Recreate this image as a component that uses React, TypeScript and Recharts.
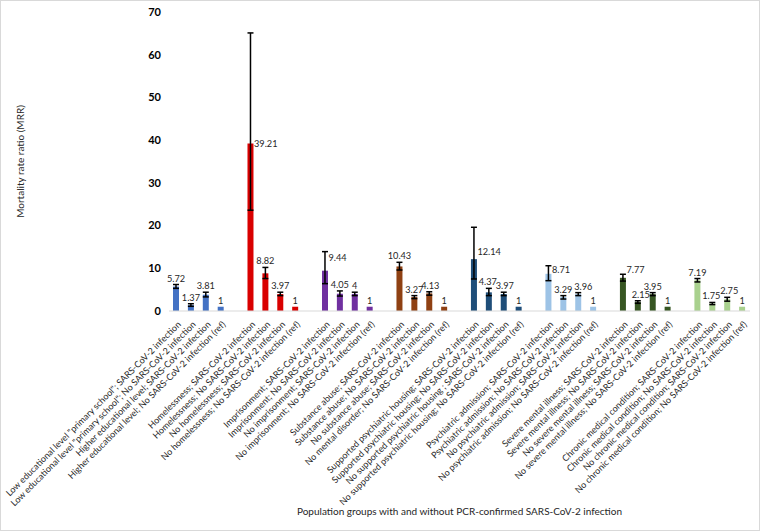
import { Bar, BarChart, XAxis, YAxis, ErrorBar, LabelList, Cell, Label } from "recharts"

const categories = [
    'Low educational level "primary school"; SARS-CoV-2 infection',
    'Low educational level "primary school"; No SARS-CoV-2 infection',
    "Higher educational level; SARS-CoV-2 infection",
    "Higher educational level; No SARS-CoV-2 infection (ref)",
    "Homelessness; SARS-CoV-2 infection",
    "Homelessness; No SARS-CoV-2 infection",
    "No homelessness; SARS-CoV-2 infection",
    "No homelessness; No SARS-CoV-2 infection (ref)",
    "Imprisonment; SARS-CoV-2 infection",
    "Imprisonment; No SARS-CoV-2 infection",
    "No imprisonment;  SARS-CoV-2 infection",
    "No imprisonment; No SARS-CoV-2 infection (ref)",
    "Substance abuse; SARS-CoV-2 infection",
    "Substance abuse; No SARS-CoV-2 infection",
    "No substance abuse; SARS-CoV-2 infection",
    "No mental disorder; No SARS-CoV-2 infection (ref)",
    "Supported psychiatric housing; SARS-CoV-2 infection",
    "Supported psychiatric housing; No SARS-CoV-2 infection",
    "No supported psychiatric housing ; SARS-CoV-2 infection",
    "No supported psychiatric housing; No SARS-CoV-2 infection (ref)",
    "Psychiatric admission; SARS-CoV-2 infection",
    "Psychiatric admission;  No SARS-CoV-2 infection",
    "No psychiatric admission; SARS-CoV-2 infection",
    "No psychiatric admission; No SARS-CoV-2 infection (ref)",
    "Severe mental illness; SARS-CoV-2 infection",
    "Severe mental illness;  No SARS-CoV-2 infection",
    "No severe mental illness; SARS-CoV-2 infection",
    "No severe mental illness; No SARS-CoV-2 infection (ref)",
    "Chronic medical condition; SARS-CoV-2 infection",
    "Chronic medical condition; No SARS-CoV-2 infection",
    "No chronic medical condition; SARS-CoV-2 infection",
    "No chronic medical condition; No SARS-CoV-2 infection (ref)",
]

const mrr = [
    5.72, 1.37, 3.81, 1,
    39.21, 8.82, 3.97, 1,
    9.44, 4.05, 4, 1,
    10.43, 3.27, 4.13, 1,
    12.14, 4.37, 3.97, 1,
    8.71, 3.29, 3.96, 1,
    7.77, 2.15, 3.95, 1,
    7.19, 1.75, 2.75, 1,
]

// lower / upper 95% CI, null for the reference groups
const ciLow = [
    5.3, 1.1, 3.3, null,
    23.6, 7.6, 3.6, null,
    6.4, 3.5, 3.6, null,
    9.6, 2.9, 3.7, null,
    7.5, 3.6, 3.6, null,
    7.1, 2.8, 3.6, null,
    7.0, 1.8, 3.6, null,
    6.8, 1.5, 2.3, null,
]
const ciHigh = [
    6.2, 1.7, 4.4, null,
    65.1, 10.2, 4.4, null,
    13.9, 4.7, 4.4, null,
    11.4, 3.6, 4.5, null,
    19.6, 5.3, 4.4, null,
    10.6, 3.6, 4.3, null,
    8.6, 2.4, 4.3, null,
    7.6, 2.0, 3.2, null,
]

const groupColors = [
    "#4472C4", "#D90000", "#7030A0", "#8F4113",
    "#1F4E79", "#9DC3E6", "#375623", "#A9D18E",
]

const yTicks = [0, 10, 20, 30, 40, 50, 60, 70]

// labels drawn to the right of the bar instead of on top (bar index -> vertical nudge)
const sideLabels: Record<number, number> = { 4: 3, 8: -10, 16: -4, 20: -1, 24: -5 }
// small horizontal nudges for a few top labels
const labelShift: Record<number, number> = { 14: 1, 17: -1, 18: 1, 22: 5, 25: 3, 29: -1, 30: 2 }

const FONT = "Lato, 'Open Sans', sans-serif"

// 8 groups of 4 bars with one empty slot between groups
const table: any[] = []
mrr.forEach((v, i) => {
    const g = Math.floor(i / 4)
    if (i > 0 && i % 4 === 0) table.push({ key: `gap${g}`, label: "", value: null, err: undefined, bar: null })
    const lo = ciLow[i]
    const hi = ciHigh[i]
    table.push({
        key: `c${i}`,
        label: categories[i],
        value: v,
        err: lo == null || hi == null ? undefined : [v - lo, hi - v],
        color: groupColors[g],
        bar: i,
    })
})

const CategoryTick = (props: any) => {
    const { x, y, payload } = props
    const row = table[payload.index]
    if (!row || !row.label) return null
    const ax = x + 5
    const ay = y + 6
    return (
        <text
            x={ax}
            y={ay}
            transform={`rotate(-45, ${ax}, ${ay})`}
            textAnchor="end"
            fontSize={9}
            fontFamily={FONT}
            fill="#262626"
        >
            {row.label}
        </text>
    )
}

const ValueLabel = (props: any) => {
    const { x, y, width, height, value } = props
    if (value == null || value < 0) return null
    const i = Number(value)
    const v = mrr[i]
    const pxPerUnit = height / v
    if (sideLabels[i] !== undefined) {
        return (
            <text x={x + width + 0.5} y={y + sideLabels[i]} fontSize={9.2} fontFamily={FONT} fill="#262626">
                {v}
            </text>
        )
    }
    const hi = ciHigh[i] ?? v
    const topY = y - (hi - v) * pxPerUnit
    return (
        <text
            x={x + width / 2 + (labelShift[i] ?? 0)}
            y={topY - 3}
            textAnchor="middle"
            fontSize={9.2}
            fontFamily={FONT}
            fill="#262626"
        >
            {v}
        </text>
    )
}

export default function App() {
    return (
        <div
            style={{
                position: "absolute",
                left: 0,
                top: 0,
                width: 760,
                height: 531,
                background: "#fff",
                boxShadow: "inset 0 0 0 1px #d9d9d9",
            }}
        >
            <BarChart
                width={760}
                height={531}
                data={table}
                margin={{ top: 12, right: 10, bottom: 0, left: 0 }}
            >
                <XAxis
                    dataKey="key"
                    interval={0}
                    tickLine={false}
                    axisLine={{ stroke: "#d9d9d9" }}
                    height={220}
                    tick={<CategoryTick />}
                >
                    <Label
                        content={(p: any) => {
                            const vb = p.viewBox
                            return (
                                <text
                                    x={vb.x + vb.width / 2}
                                    y={515}
                                    textAnchor="middle"
                                    fontSize={10}
                                    fontFamily={FONT}
                                    fill="#262626"
                                >
                                    Population groups with and without PCR-confirmed SARS-CoV-2 infection
                                </text>
                            )
                        }}
                    />
                </XAxis>
                <YAxis
                    width={169}
                    domain={[0, 70]}
                    ticks={yTicks}
                    tickLine={false}
                    axisLine={false}
                    tick={{ fontSize: 11, fontWeight: 700, fill: "#000", fontFamily: FONT }}
                >
                    <Label
                        content={(p: any) => {
                            const vb = p.viewBox
                            const cy = vb.y + vb.height / 2
                            return (
                                <text
                                    x={21}
                                    y={cy}
                                    transform={`rotate(-90, 21, ${cy})`}
                                    textAnchor="middle"
                                    dominantBaseline="middle"
                                    fontSize={10}
                                    fontFamily={FONT}
                                    fill="#262626"
                                >
                                    Mortality rate ratio (MRR)
                                </text>
                            )
                        }}
                    />
                </YAxis>
                <Bar dataKey="value" barSize={6} isAnimationActive={false}>
                    {table.map((row) => (
                        <Cell key={row.key} fill={row.color ?? "none"} />
                    ))}
                    <ErrorBar dataKey="err" width={3} stroke="#000" strokeWidth={1.5} />
                    <LabelList dataKey="bar" content={<ValueLabel />} />
                </Bar>
            </BarChart>
        </div>
    )
}
